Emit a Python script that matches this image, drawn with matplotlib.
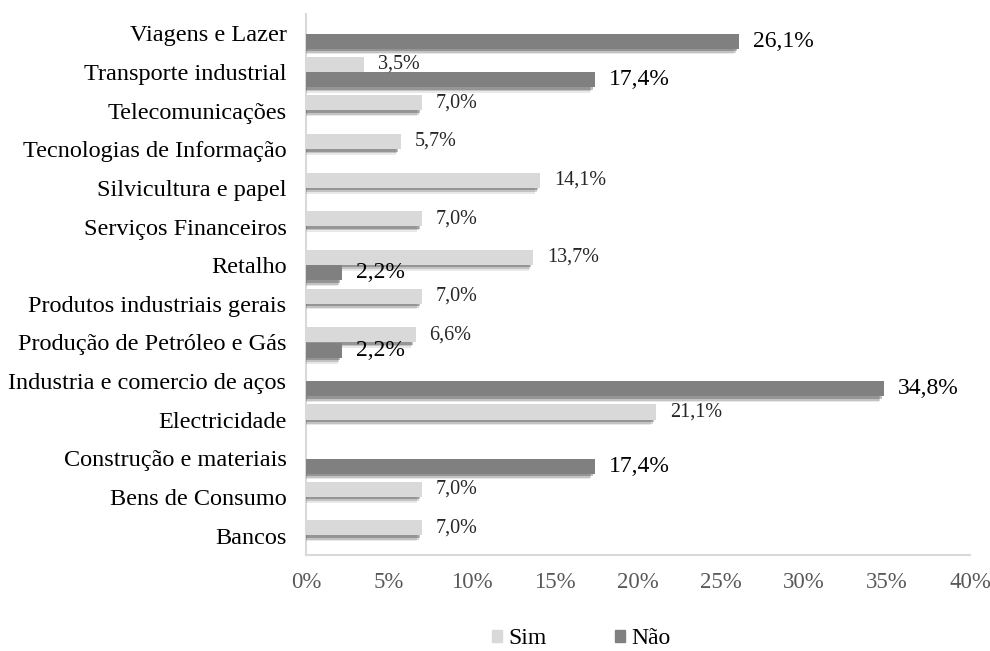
import matplotlib
matplotlib.use('Agg')
from matplotlib import pyplot as plt
from matplotlib.patches import Patch
import matplotlib.patheffects as pe
import numpy as np

CATEGORIES = ['Bancos', 'Bens de Consumo', 'Construção e materiais', 'Electricidade',
              'Industria e comercio de aços', 'Produção de Petróleo e Gás',
              'Produtos industriais gerais', 'Retalho', 'Serviços Financeiros',
              'Silvicultura e papel', 'Tecnologias de Informação', 'Telecomunicações',
              'Transporte industrial', 'Viagens e Lazer']
SIM = [7.0, 7.0, 0, 21.1, 0, 6.6, 7.0, 13.7, 7.0, 14.1, 5.7, 7.0, 3.5, 0]
NAO = [0, 0, 17.4, 0, 34.8, 2.2, 0, 2.2, 0, 0, 0, 0, 17.4, 26.1]
XTICKS = [0, 5, 10, 15, 20, 25, 30, 35, 40]

SIM_COLOR = '#D9D9D9'
NAO_COLOR = '#808080'

plt.rcParams['font.family'] = ['Liberation Serif', 'DejaVu Serif']

fig = plt.figure(figsize=(9.9, 6.51), dpi=100)
ax = fig.add_axes([0.309, 0.1475, 0.671, 0.831])

y = np.arange(len(CATEGORIES))
h = 0.39
# soft drop shadow below each bar (stacked translucent copies)
shadow = [pe.SimplePatchShadow(offset=(-3.5, -4.2), shadow_rgbFace='#202020', alpha=0.10),
          pe.SimplePatchShadow(offset=(-2.5, -3.0), shadow_rgbFace='#202020', alpha=0.18),
          pe.SimplePatchShadow(offset=(-1.5, -1.8), shadow_rgbFace='#202020', alpha=0.28),
          pe.Normal()]

bars_sim = ax.barh(y + 0.2, SIM, height=h, color=SIM_COLOR, zorder=3)
bars_nao = ax.barh(y - 0.2, NAO, height=h, color=NAO_COLOR, zorder=3)
for b in list(bars_sim) + list(bars_nao):
    if b.get_width() > 0:
        b.set_path_effects(shadow)

for yy, v in zip(y, SIM):
    if v > 0:
        ax.annotate(f'{v:.1f}%'.replace('.', ','), (v, yy + 0.2), xytext=(10, 0),
                    textcoords='offset points', va='center', ha='left', fontsize=14.5,
                    color='#262626', zorder=5)
for yy, v in zip(y, NAO):
    if v > 0:
        ax.annotate(f'{v:.1f}%'.replace('.', ','), (v, yy - 0.2), xytext=(10, 0),
                    textcoords='offset points', va='center', ha='left', fontsize=17,
                    color='black', zorder=5)

ax.set_ylim(-0.5, len(CATEGORIES) - 0.5)
ax.set_xlim(0, 40)
ax.set_yticks(y)
ax.set_yticklabels(CATEGORIES, fontsize=17.5)
ax.set_xticks(XTICKS)
ax.set_xticklabels([f'{t}%' for t in XTICKS], fontsize=16.5, color='#595959')
ax.tick_params(axis='both', length=0)
ax.tick_params(axis='x', pad=12)
ax.tick_params(axis='y', pad=14)

for s in ['top', 'right']:
    ax.spines[s].set_visible(False)
for s in ['left', 'bottom']:
    ax.spines[s].set_color('#D9D9D9')
    ax.spines[s].set_linewidth(1.5)

handles = [Patch(color=SIM_COLOR), Patch(color=NAO_COLOR)]
fig.legend(handles=handles, labels=['Sim', 'Não'], loc='lower center',
           bbox_to_anchor=(0.587, -0.03), ncol=2, frameon=False, fontsize=17,
           handlelength=0.45, handleheight=0.45, handletextpad=0.25, columnspacing=2.9)

plt.savefig('out.png', dpi=100)
